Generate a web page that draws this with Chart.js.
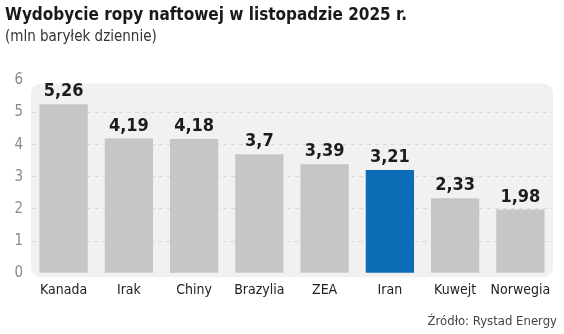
<!DOCTYPE html>
<html lang="pl">
<head>
<meta charset="utf-8">
<script src="https://cdn.jsdelivr.net/npm/chart.js@4"></script>
<style>
  html, body { margin: 0; padding: 0; background: #fff; }
  #wrap { width: 564px; height: 334px; position: relative; }
</style>
</head>
<body>
<div id="wrap"><canvas id="oilChart"></canvas></div>
<script>
// data
const categories = ["Kanada", "Irak", "Chiny", "Brazylia", "ZEA", "Iran", "Kuwejt", "Norwegia"];
const production = [5.26, 4.19, 4.18, 3.7, 3.39, 3.21, 2.33, 1.98];
const yTicks = [0, 1, 2, 3, 4, 5, 6];
const highlighted = "Iran";

const FONT = "'DejaVu Sans Condensed', 'Liberation Sans', sans-serif";
const GREY = "#c6c6c6";
const BLUE = "#0b6db5";

const fmt = v => String(v).replace(".", ",");

// light grey rounded panel behind the plot
const panelPlugin = {
  id: "panel",
  beforeDraw(chart) {
    const { ctx, chartArea: a } = chart;
    ctx.save();
    ctx.fillStyle = "#f1f1f1";
    ctx.beginPath();
    ctx.roundRect(a.left, a.top + 3, a.right - a.left, a.bottom - a.top + 1, 10);
    ctx.fill();
    ctx.restore();
  }
};

// value above each bar + source line
const labelsPlugin = {
  id: "valueLabels",
  afterDatasetsDraw(chart) {
    const { ctx } = chart;
    const meta = chart.getDatasetMeta(0);
    ctx.save();
    ctx.font = "bold 18px " + FONT;
    ctx.fillStyle = "#1c1c1c";
    ctx.textAlign = "center";
    ctx.textBaseline = "alphabetic";
    meta.data.forEach((bar, i) => {
      ctx.fillText(fmt(production[i]), bar.x, bar.y - 8);
    });
    ctx.restore();
  },
  afterDraw(chart) {
    const { ctx } = chart;
    ctx.save();
    ctx.font = "13px " + FONT;
    ctx.fillStyle = "#444";
    ctx.textAlign = "right";
    ctx.textBaseline = "middle";
    ctx.fillText("Źródło: Rystad Energy", 557, 322);
    ctx.restore();
  }
};

new Chart(document.getElementById("oilChart"), {
  type: "bar",
  data: {
    labels: categories,
    datasets: [{
      data: production,
      backgroundColor: categories.map(c => c === highlighted ? BLUE : GREY),
      barPercentage: 0.74,
      categoryPercentage: 1
    }]
  },
  options: {
    responsive: true,
    maintainAspectRatio: false,
    animation: false,
    layout: { padding: { left: 5, right: 11, top: 0, bottom: 26 } },
    scales: {
      x: {
        grid: { display: false, drawTicks: false },
        border: { display: false },
        ticks: {
          color: "#222",
          font: { family: FONT, size: 14 },
          padding: 9,
          maxRotation: 0,
          autoSkip: false
        }
      },
      y: {
        min: 0,
        max: 6,
        afterBuildTicks: s => { s.ticks = yTicks.map(v => ({ value: v })); },
        afterFit: s => { s.width = 26; },
        grid: {
          drawTicks: false,
          color: c => (c.tick && (c.tick.value === 0 || c.tick.value === 6)) ? "rgba(0,0,0,0)" : "#d9d9d9",
          lineWidth: 1
        },
        border: { display: false, dash: [4, 4] },
        ticks: { color: "#8a8a8a", font: { family: FONT, size: 15 }, padding: 8 }
      }
    },
    plugins: {
      legend: { display: false },
      tooltip: { enabled: false },
      title: {
        display: true,
        text: "Wydobycie ropy naftowej w listopadzie 2025 r.",
        align: "start",
        color: "#1a1a1a",
        font: { family: FONT, size: 17, weight: "bold" },
        padding: { top: 5, bottom: 3 }
      },
      subtitle: {
        display: true,
        text: "(mln baryłek dziennie)",
        align: "start",
        color: "#333",
        font: { family: FONT, size: 15 },
        padding: { top: 0, bottom: 34 }
      }
    }
  },
  plugins: [panelPlugin, labelsPlugin]
});
</script>
</body>
</html>
